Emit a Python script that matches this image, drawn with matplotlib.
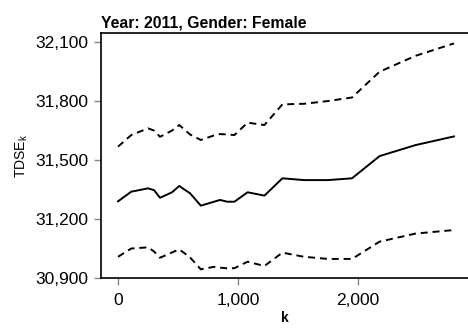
import matplotlib.pyplot as plt
from matplotlib.ticker import FuncFormatter

plt.rcParams['font.family'] = ['Liberation Sans', 'DejaVu Sans']

# TDSE by k, with upper/lower bands
k = [0, 110, 250, 300, 350, 450, 510, 600, 690, 800, 850, 910, 970,
     1080, 1220, 1370, 1550, 1750, 1950, 2180, 2480, 2800]
tdse = [31290, 31339, 31356, 31347, 31308, 31336, 31368, 31331, 31268, 31288, 31297,
        31288, 31288, 31336, 31319, 31407, 31398, 31398, 31407, 31520, 31576, 31620]
upper = [31568, 31627, 31661, 31650, 31618, 31650, 31678, 31630, 31602, 31625, 31632,
         31630, 31627, 31690, 31678, 31783, 31786, 31800, 31818, 31949, 32030, 32093]
lower = [31008, 31050, 31056, 31035, 31003, 31030, 31046, 31005, 30944, 30957, 30953,
         30949, 30950, 30983, 30961, 31029, 31008, 30997, 30997, 31085, 31126, 31144]

xticks = [0, 1000, 2000]
yticks = [30900, 31200, 31500, 31800, 32100]

fig = plt.figure(figsize=(4.68, 3.28), dpi=100)
ax = fig.add_axes([0.2158, 0.1524, 0.7842, 0.747])

ax.plot(k, tdse, color='black', lw=1.4)
ax.plot(k, upper, color='black', lw=1.4, linestyle=(0, (3.6, 2.5)))
ax.plot(k, lower, color='black', lw=1.4, linestyle=(0, (3.6, 2.5)))

ax.set_xlim(-142, 2917)
ax.set_ylim(30900, 32146)
ax.set_xticks(xticks)
ax.set_yticks(yticks)
comma = FuncFormatter(lambda v, p: f'{int(v):,}')
ax.xaxis.set_major_formatter(comma)
ax.yaxis.set_major_formatter(comma)
ax.tick_params(direction='out', length=5, width=1, color='#888888',
               labelsize=12.5)
ax.tick_params(axis='x', pad=6)
ax.tick_params(axis='y', pad=4)

ax.spines['right'].set_visible(False)
for s in ['left', 'bottom', 'top']:
    ax.spines[s].set_linewidth(1.2)
    ax.spines[s].set_color('black')

ax.set_xlabel('k', fontsize=10, fontweight='bold', labelpad=2)
ax.set_ylabel('TDSE$_\\mathregular{k}$', fontsize=10, labelpad=4)
ax.set_title('Year: 2011, Gender: Female', fontsize=11.3, fontweight='bold',
             loc='left', pad=4)

fig.savefig('out.png', dpi=100)
